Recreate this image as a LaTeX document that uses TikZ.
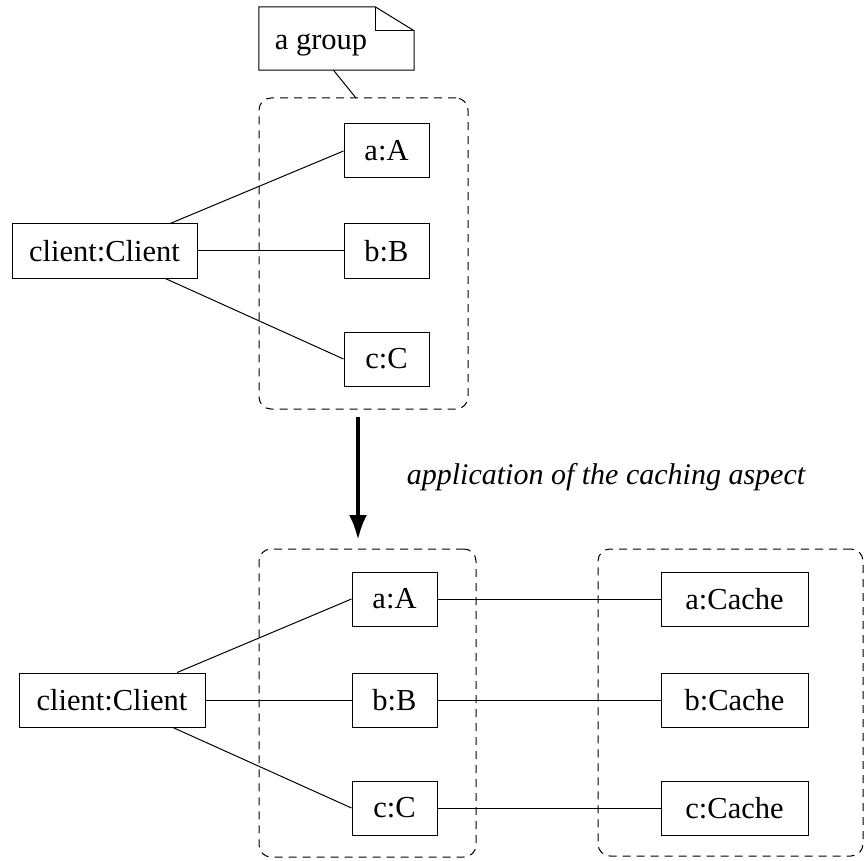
\documentclass[tikz,border=0pt]{standalone}
\usepackage{fontspec}
\setmainfont{Liberation Serif}
\usetikzlibrary{arrows.meta}

\begin{document}
\begin{tikzpicture}[x=1pt,y=-1pt,
            obj/.style={draw,line width=1pt,inner sep=0pt,minimum height=54pt,font=\fontsize{30.5}{36}\selectfont},
            grp/.style={draw,line width=1pt,dash pattern=on 8pt off 6pt,rounded corners=12pt,inner sep=0pt},
            link/.style={line width=1pt}]
            \useasboundingbox (0,0) rectangle (865,861);
            % before
            \node [inner sep=0pt,minimum width=155pt,minimum height=63pt] (note) at (336.5,38.5) {};
            \node [inner sep=0pt,font=\fontsize{30.5}{36}\selectfont] (notetext) at (321,45) {a group};
            \draw [line width=1pt] (note.south west) -- (note.south east) -- ([yshift=-24pt]note.north east) -- ([xshift=-39pt]note.north east) -- (note.north west) -- cycle;
            \draw [line width=1pt] ([xshift=-39pt]note.north east) |- ([yshift=-24pt]note.north east);
            \node [grp,minimum width=209pt,minimum height=311pt] (grp1) at (363.5,253.5) {};
            \coordinate (tag) at (356,98);
            \draw [link] ([xshift=-3pt]note.south) -- (tag);
            \node [obj,minimum width=185pt] (client1) at (104.5,251) {client:Client};
            \node [obj,minimum width=85pt] (a1) at (386.5,151) {a:A};
            \node [obj,minimum width=85pt] (b1) at (386.5,251) {b:B};
            \node [obj,minimum width=85pt] (c1) at (386.5,359) {c:C};
            \draw [link] (client1) -- (a1.west);
            \draw [link] (client1) -- (b1.west);
            \draw [link] (client1) -- (c1.west);
            % the aspect
            \coordinate (from) at (358,417);
            \coordinate (to) at (358,540);
            \draw [line width=4pt,-{Latex[length=25pt,width=18pt]}] (from) -- (to);
            \node [font=\fontsize{30}{36}\selectfont\itshape] (aspect) at (606,477) {application of the caching aspect};
            % after
            \node [grp,minimum width=217pt,minimum height=308pt] (grp2) at (367.5,703) {};
            \node [grp,minimum width=265pt,minimum height=307pt] (grp3) at (730.5,702.5) {};
            \node [obj,minimum width=186pt] (client2) at (112,700) {client:Client};
            \node [obj,minimum width=85pt] (a2) at (394.5,599) {a:A};
            \node [obj,minimum width=85pt] (b2) at (394.5,700) {b:B};
            \node [obj,minimum width=85pt] (c2) at (394.5,808) {c:C};
            \node [obj,minimum width=147pt] (ac) at (734.5,599) {a:Cache};
            \node [obj,minimum width=147pt] (bc) at (734.5,700) {b:Cache};
            \node [obj,minimum width=147pt] (cc) at (734.5,808) {c:Cache};
            \draw [link] (client2) -- (a2.west);
            \draw [link] (client2) -- (b2.west);
            \draw [link] (client2) -- (c2.west);
            \draw [link] (a2) -- (ac);
            \draw [link] (b2) -- (bc);
            \draw [link] (c2) -- (cc);
\end{tikzpicture}
\end{document}
